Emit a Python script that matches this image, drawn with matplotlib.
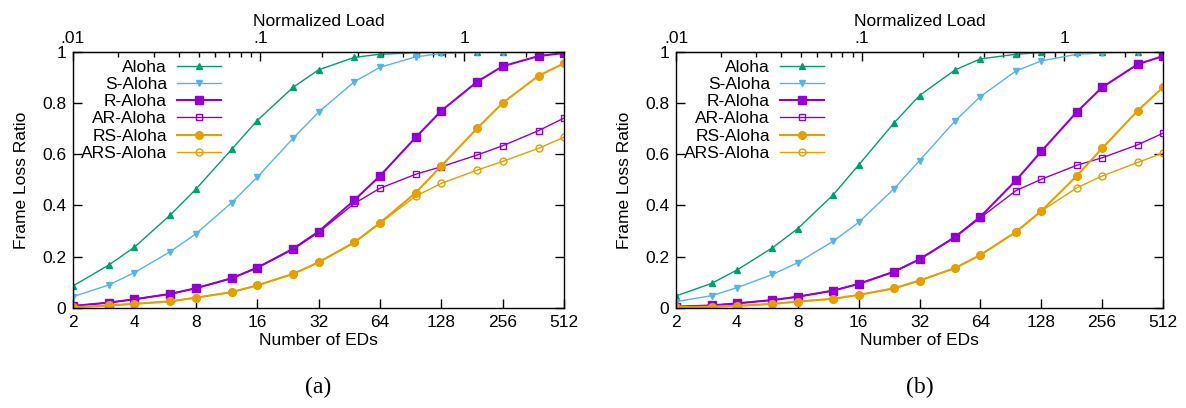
import matplotlib
matplotlib.use("Agg")
import matplotlib.pyplot as plt
from matplotlib.ticker import NullLocator

plt.rcParams["font.family"] = ["Liberation Sans", "DejaVu Sans"]

# number of end devices (x values)
n_eds = [2, 3, 4, 6, 8, 12, 16, 24, 32, 48, 64, 96, 128, 192, 256, 384, 512]
x_ticks = [2, 4, 8, 16, 32, 64, 128, 256, 512]
load_div = 166.0  # N / load_div = normalized load

# (a)
a_aloha = [0.086, 0.168, 0.237, 0.363, 0.463, 0.619, 0.731, 0.861, 0.929, 0.978, 0.990, 0.996, 0.998, 0.999, 1.0, 1.0, 1.0]
a_saloha = [0.044, 0.090, 0.138, 0.220, 0.289, 0.411, 0.510, 0.662, 0.764, 0.883, 0.939, 0.980, 0.993, 0.998, 0.999, 1.0, 1.0]
a_raloha = [0.008, 0.021, 0.034, 0.055, 0.077, 0.116, 0.157, 0.231, 0.298, 0.421, 0.515, 0.666, 0.769, 0.883, 0.943, 0.983, 0.995]
a_araloha = [0.008, 0.021, 0.034, 0.055, 0.077, 0.116, 0.157, 0.229, 0.295, 0.408, 0.467, 0.522, 0.551, 0.597, 0.633, 0.692, 0.741]
a_rsaloha = [0.003, 0.010, 0.016, 0.026, 0.040, 0.062, 0.088, 0.133, 0.178, 0.256, 0.332, 0.450, 0.554, 0.701, 0.800, 0.906, 0.955]
a_arsaloha = [0.003, 0.010, 0.016, 0.026, 0.040, 0.062, 0.088, 0.133, 0.178, 0.256, 0.330, 0.437, 0.486, 0.538, 0.572, 0.623, 0.666]

# (b)
b_aloha = [0.047, 0.096, 0.148, 0.235, 0.310, 0.442, 0.558, 0.723, 0.829, 0.929, 0.972, 0.990, 0.997, 0.999, 1.0, 1.0, 1.0]
b_saloha = [0.025, 0.048, 0.079, 0.131, 0.177, 0.261, 0.334, 0.466, 0.575, 0.730, 0.825, 0.925, 0.964, 0.990, 0.995, 0.999, 1.0]
b_raloha = [0.005, 0.010, 0.018, 0.031, 0.044, 0.068, 0.094, 0.142, 0.190, 0.277, 0.356, 0.498, 0.611, 0.765, 0.861, 0.951, 0.983]
b_araloha = [0.005, 0.010, 0.018, 0.031, 0.044, 0.068, 0.094, 0.142, 0.190, 0.277, 0.352, 0.458, 0.502, 0.557, 0.586, 0.637, 0.682]
b_rsaloha = [0.003, 0.005, 0.008, 0.016, 0.025, 0.036, 0.051, 0.077, 0.107, 0.156, 0.207, 0.297, 0.378, 0.516, 0.623, 0.770, 0.861]
b_arsaloha = [0.003, 0.005, 0.008, 0.016, 0.025, 0.036, 0.051, 0.077, 0.107, 0.156, 0.207, 0.297, 0.378, 0.469, 0.515, 0.568, 0.605]

labels = ["Aloha", "S-Aloha", "R-Aloha", "AR-Aloha", "RS-Aloha", "ARS-Aloha"]
styles = [
    dict(color="#009e73", marker="^", ms=5, lw=1.0, mfc="#009e73"),
    dict(color="#56b4e9", marker="v", ms=5, lw=1.0, mfc="#56b4e9"),
    dict(color="#9400d3", marker="s", ms=5.5, lw=1.5, mfc="#9400d3"),
    dict(color="#9400d3", marker="s", ms=5, lw=1.0, mfc="none", mew=1.0),
    dict(color="#e69f00", marker="o", ms=5.5, lw=1.5, mfc="#e69f00"),
    dict(color="#e69f00", marker="o", ms=5, lw=1.0, mfc="none", mew=1.0),
]

FS = 12.5

fig = plt.figure(figsize=(11.86, 4.08), dpi=100)


def draw_panel(rect, series, caption):
    ax = fig.add_axes(rect)
    for ys, lab, st in zip(series, labels, styles):
        ax.plot(n_eds, ys, label=lab, color=st["color"], marker=st["marker"],
                markersize=st["ms"], linewidth=st["lw"], markerfacecolor=st["mfc"],
                markeredgecolor=st["color"], markeredgewidth=st.get("mew", 1.0))
    ax.set_xscale("log", base=2)
    ax.set_xlim(2, 512)
    ax.set_ylim(0, 1)
    ax.set_xticks(x_ticks)
    ax.set_xticklabels([str(t) for t in x_ticks])
    ax.xaxis.set_minor_locator(NullLocator())
    ax.set_yticks([0, 0.2, 0.4, 0.6, 0.8, 1.0])
    ax.set_yticklabels(["0", "0.2", "0.4", "0.6", "0.8", "1"])
    ax.tick_params(axis="both", direction="in", length=6.5, width=1, labelsize=FS, pad=5)
    ax.tick_params(axis="y", right=True)
    ax.set_xlabel("Number of EDs", fontsize=FS, labelpad=2)
    ax.set_ylabel("Frame Loss Ratio", fontsize=FS, labelpad=9)
    for sp in ax.spines.values():
        sp.set_linewidth(1.0)

    sec = ax.secondary_xaxis("top", functions=(lambda n: n / load_div, lambda l: l * load_div))
    sec.set_xticks([2 / load_div, 0.1, 1.0])
    sec.set_xticklabels([".01", ".1", "1"])
    minors = [k * 0.01 for k in range(2, 10)] + [k * 0.1 for k in range(2, 10)] + [2.0, 3.0]
    sec.set_xticks(minors, minor=True)
    sec.tick_params(axis="x", which="major", direction="in", length=6.5, width=1, labelsize=FS, pad=4)
    sec.tick_params(axis="x", which="minor", direction="in", length=3.5, width=1)
    sec.set_xlabel("Normalized Load", fontsize=FS, labelpad=4)

    leg = ax.legend(loc="upper left", bbox_to_anchor=(0.0, 1.0), frameon=False,
                    markerfirst=False, fontsize=FS, handlelength=2.5, handletextpad=0.6,
                    labelspacing=0.12, borderaxespad=0.05, numpoints=1)
    for col in leg._legend_handle_box.get_children():
        col.align = "right"

    x0 = rect[0] + rect[2] / 2
    fig.text(x0, 1 - 387 / 408, caption, ha="center", va="center",
             fontsize=17, family=["Liberation Serif", "DejaVu Serif"])
    return ax


draw_panel([73 / 1186, 100 / 408, 491 / 1186, 256.3 / 408],
           [a_aloha, a_saloha, a_raloha, a_araloha, a_rsaloha, a_arsaloha], "(a)")
draw_panel([676 / 1186, 100 / 408, 487 / 1186, 256.3 / 408],
           [b_aloha, b_saloha, b_raloha, b_araloha, b_rsaloha, b_arsaloha], "(b)")

fig.savefig("out.png", dpi=100)
